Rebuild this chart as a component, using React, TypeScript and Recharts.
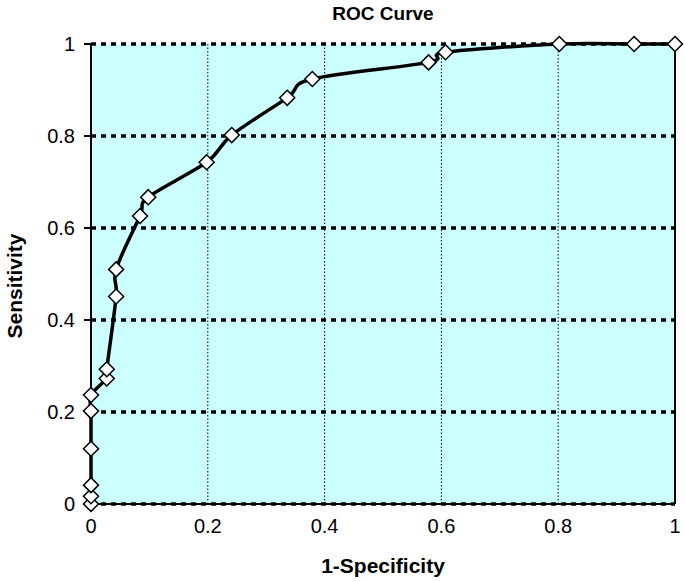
import React from 'react';
import { LineChart, Line, XAxis, YAxis, CartesianGrid, ReferenceLine } from 'recharts';

const fpr = [0, 0, 0, 0, 0, 0, 0.027, 0.027, 0.043, 0.043, 0.084, 0.098, 0.198, 0.241, 0.336, 0.379, 0.578, 0.607, 0.802, 0.93, 1];
const tpr = [0, 0.017, 0.041, 0.12, 0.202, 0.237, 0.273, 0.293, 0.451, 0.51, 0.626, 0.667, 0.743, 0.802, 0.883, 0.924, 0.96, 0.982, 1, 1, 1];
const xTicks = [0, 0.2, 0.4, 0.6, 0.8, 1];
const yTicks = [0, 0.2, 0.4, 0.6, 0.8, 1];
const title = 'ROC Curve';
const xTitle = '1-Specificity';
const yTitle = 'Sensitivity';

const data = fpr.map((x, i) => ({ x, y: tpr[i] }));

const FONT = '"Liberation Sans", Arial, sans-serif';

// Catmull-Rom style smoothing curve factory (like Excel's smoothed line)
const smoothCurve: any = (context: any) => {
  let pts: number[][] = [];
  return {
    areaStart() {},
    areaEnd() {},
    lineStart() {
      pts = [];
    },
    point(x: number, y: number) {
      pts.push([+x, +y]);
    },
    lineEnd() {
      if (!pts.length) return;
      context.moveTo(pts[0][0], pts[0][1]);
      for (let i = 0; i < pts.length - 1; i++) {
        const p0 = pts[i - 1] || pts[i];
        const p1 = pts[i];
        const p2 = pts[i + 1];
        const p3 = pts[i + 2] || p2;
        const c1x = p1[0] + (p2[0] - p0[0]) / 6;
        const c1y = p1[1] + (p2[1] - p0[1]) / 6;
        const c2x = p2[0] - (p3[0] - p1[0]) / 6;
        const c2y = p2[1] - (p3[1] - p1[1]) / 6;
        context.bezierCurveTo(c1x, c1y, c2x, c2y, p2[0], p2[1]);
      }
    },
  };
};

const Diamond = (props: any) => {
  const { cx, cy, index } = props;
  if (cx == null || cy == null) return <g key={`d-${index}`} />;
  const r = 7.5;
  return (
    <polygon
      key={`d-${index}`}
      points={`${cx},${cy - r} ${cx + r},${cy} ${cx},${cy + r} ${cx - r},${cy}`}
      fill="#fff"
      stroke="#000"
      strokeWidth={1.5}
    />
  );
};

const tickStyle = { fill: '#000', fontSize: 20, fontFamily: FONT };

export default function App() {
  return (
    <div style={{ position: 'absolute', left: 0, top: 0, width: 685, height: 581, background: '#fff' }}>
      <div
        style={{
          position: 'absolute',
          left: 283,
          top: 3,
          width: 200,
          textAlign: 'center',
          fontFamily: FONT,
          fontWeight: 'bold',
          fontSize: 19,
          lineHeight: '22px',
          color: '#000',
        }}
      >
        {title}
      </div>
      <LineChart width={685} height={581} data={data} margin={{ top: 44, right: 10, bottom: 0, left: 0 }}>
        <CartesianGrid
          horizontal
          vertical={false}
          fill="#CCFFFF"
          stroke="#000"
          strokeWidth={3.5}
          strokeDasharray="5 5"
        />
        <CartesianGrid horizontal={false} vertical stroke="#000" strokeWidth={1} strokeDasharray="1.5 2" />
        <XAxis
          type="number"
          dataKey="x"
          domain={[0, 1]}
          ticks={xTicks}
          interval={0}
          height={77}
          axisLine={{ stroke: '#000', strokeWidth: 2 }}
          tickLine={false}
          tickSize={6}
          tickMargin={9}
          tick={tickStyle}
          label={{
            content: () => (
              <text
                x={383}
                y={565}
                textAnchor="middle"
                dominantBaseline="central"
                fontFamily={FONT}
                fontWeight="bold"
                fontSize={21}
                fill="#000"
              >
                {xTitle}
              </text>
            ),
          }}
        />
        <YAxis
          type="number"
          domain={[0, 1]}
          ticks={yTicks}
          interval={0}
          width={91}
          axisLine={{ stroke: '#000', strokeWidth: 2 }}
          tickLine={{ stroke: '#000', strokeWidth: 2 }}
          tickSize={7}
          tickMargin={9}
          tick={tickStyle}
          label={{
            content: () => (
              <text
                x={14}
                y={286}
                transform="rotate(-90 14 286)"
                textAnchor="middle"
                dominantBaseline="central"
                fontFamily={FONT}
                fontWeight="bold"
                fontSize={21}
                fill="#000"
              >
                {yTitle}
              </text>
            ),
          }}
        />
        <ReferenceLine x={1} stroke="#000" strokeWidth={2} />
        <Line
          dataKey="y"
          type={smoothCurve}
          stroke="#000"
          strokeWidth={3.5}
          dot={Diamond}
          activeDot={false}
          isAnimationActive={false}
        />
      </LineChart>
    </div>
  );
}
